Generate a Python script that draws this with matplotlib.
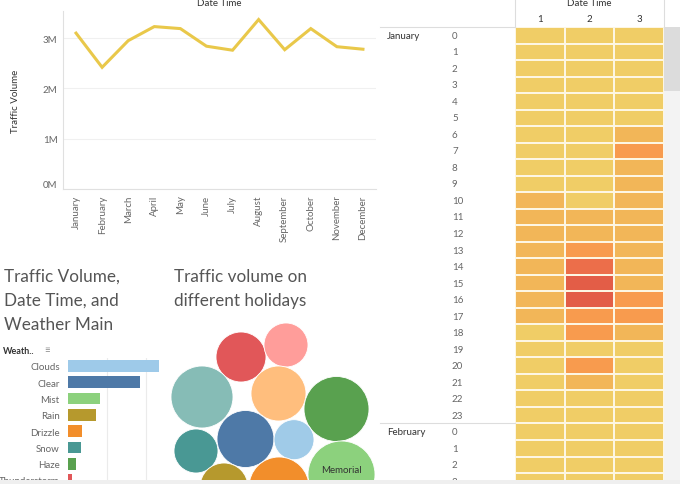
import numpy as np
import matplotlib
matplotlib.use('Agg')
import matplotlib.pyplot as plt
from matplotlib.colors import LinearSegmentedColormap
from matplotlib.patches import Circle, Rectangle

########  DATA  ########

months = ['January', 'February', 'March', 'April', 'May', 'June', 'July',
          'August', 'September', 'October', 'November', 'December']
monthly_volume = [3.10, 2.42, 2.95, 3.23, 3.19, 2.84, 2.76, 3.37, 2.77, 3.19, 2.83, 2.78]  # millions

weather = ['Clouds', 'Clear', 'Mist', 'Rain', 'Drizzle', 'Snow', 'Haze', 'Thunderstorm']
weather_volume = [11.7, 9.2, 4.1, 3.6, 1.8, 1.7, 1.0, 0.5]  # millions
weather_colors = ['#9ecae9', '#4e79a7', '#8cd17d', '#b6992d', '#f28e2b', '#499894', '#59a14f', '#e15759']

holidays = ['Washingtons Birthday', 'Columbus Day', 'Veterans Day', 'Labor Day',
            'Martin Luther King Jr Day', 'Thanksgiving Day', 'Christmas Day', 'State Fair',
            'Memorial Day', 'New Years Day', 'Independence Day']
holiday_volume = [625, 484, 961, 756, 1056, 484, 812, 400, 1122, 576, 900]  # thousands
holiday_colors = ['#e15759', '#ff9d9a', '#86bcb6', '#ffbe7d', '#59a14f', '#499894',
                  '#4e79a7', '#a0cbe8', '#8cd17d', '#b6992d', '#f28e2b']

# heatmap: hour of day (rows) x day of month (cols)
hm_days = ['1', '2', '3']
hm_months = ['January', 'February']
jan_hours = [
    [1700, 1700, 1700], [1700, 1700, 1700], [1700, 1700, 1700], [1700, 1700, 1700],
    [1700, 1700, 1700], [1700, 1700, 1700], [1700, 1700, 3000], [1700, 1700, 4000],
    [1700, 1700, 3000], [1700, 1700, 3000], [3000, 1700, 3000], [3000, 3000, 3000],
    [3000, 3000, 3000], [3000, 4000, 3000], [3000, 4700, 3000], [3000, 5200, 3000],
    [3000, 5200, 4000], [3000, 4000, 4000], [1700, 4000, 3000], [1700, 1700, 1700],
    [1700, 4000, 1700], [1700, 3000, 1700], [1700, 1700, 1700], [1700, 1700, 1700],
]
feb_hours = [[1700, 1700, 1700], [1700, 1700, 1700], [1700, 1700, 1700], [1700, 1700, 1700]]

##########################

W, H = 680, 485
BOTTOM = 481  # dashboard view is cut here
plt.rcParams['font.family'] = ['Lato', 'DejaVu Sans']
GRAY = '#666666'
DARK = '#333333'

fig = plt.figure(figsize=(W / 100, H / 100), dpi=100)


def add_ax(left, top, width, height, **kw):
    return fig.add_axes([left / W, 1 - (top + height) / H, width / W, height / H], **kw)


# ---- line chart ----
ax = add_ax(63, 12, 313, 178)
x = np.arange(len(months))
ax.plot(x, monthly_volume, color='#e9c84a', lw=2.2, solid_joinstyle='miter')
ax.set_xlim(-0.5, len(months) - 0.5)
ax.set_ylim(0, 3.54)
ax.set_yticks([0, 1, 2, 3])
ax.set_yticklabels(['0M', '1M', '2M', '3M'])
ax.set_xticks(x)
ax.set_xticklabels(months, rotation=90)
ax.tick_params(length=0, labelsize=7, colors=GRAY, pad=4)
ax.get_yticklabels()[0].set_va('bottom')
ax.grid(axis='y', color='#f0f0f0', lw=0.8)
ax.set_axisbelow(True)
for s in ['top', 'right']:
    ax.spines[s].set_visible(False)
for s in ['left', 'bottom']:
    ax.spines[s].set_color('#e0e0e0')
    ax.spines[s].set_linewidth(0.8)
ax.set_ylabel('Traffic Volume', fontsize=7, color=DARK, labelpad=16)
fig.text(219 / W, 1 - 4 / H, 'Date Time', fontsize=7, color=DARK, ha='center', va='center')

# ---- heatmap ----
hm = np.array(jan_hours + feb_hours)
row_h = 16.52
hm_h = BOTTOM - 28
hax = add_ax(515, 28, 149, hm_h)
cmap = LinearSegmentedColormap.from_list('yor', [
    (0.0, '#f0d068'), (0.395, '#f2b658'), (0.658, '#f89b4e'), (0.842, '#ec6e4a'), (1.0, '#e15a46')])
hax.pcolormesh(np.arange(4), np.arange(hm.shape[0] + 1), hm, cmap=cmap, vmin=1500, vmax=5300,
               edgecolors='#fdf6e3', linewidth=1.2)
hax.set_xlim(0, 3)
hax.set_ylim(hm_h / row_h, 0)
hax.axis('off')
for i in range(hm.shape[0]):
    hour = i % 24
    hax.text((452 - 515) / 149, i + 0.5, str(hour), transform=hax.get_yaxis_transform(),
             fontsize=7, color=GRAY, ha='left', va='center', clip_on=False)
for m, name in enumerate(hm_months):
    hax.text((387 - 515) / 149, m * 24 + 0.5, name, transform=hax.get_yaxis_transform(),
             fontsize=7, color=DARK, ha='left', va='center', clip_on=False)
for j, d in enumerate(hm_days):
    fig.text((515 + 149 / 6 + j * 149 / 3) / W, 1 - 20 / H, d, fontsize=7, color=DARK,
             ha='center', va='center')
fig.text(589 / W, 1 - 4 / H, 'Date Time', fontsize=7, color=DARK, ha='center', va='center')

# ---- weather bars ----
bar_h = BOTTOM - 358.7
bax = add_ax(68, 358.7, 110, bar_h)
yb = np.arange(len(weather))
bax.barh(yb, weather_volume, height=0.72, color=weather_colors)
bax.set_xlim(0, 110 / 39 * 5)
bax.set_ylim(bar_h / 16.6 - 0.5, -0.5)
bax.set_xticks([5, 10])
bax.grid(axis='x', color='#ebebeb', lw=0.8)
bax.set_axisbelow(True)
bax.tick_params(length=0, labelbottom=False)
bax.set_yticks(yb)
bax.set_yticklabels(weather, fontsize=7, color=GRAY)
bax.tick_params(axis='y', pad=6)
for s in bax.spines.values():
    s.set_visible(False)
fig.text(3 / W, 1 - 352 / H, 'Weath..', fontsize=6.5, color=DARK, weight='bold',
         ha='left', va='center')
fig.text(44 / W, 1 - 351 / H, '\u2261', fontsize=7, color='#888888', ha='left', va='center')

fig.text(4 / W, 1 - 269 / H, 'Traffic Volume,\nDate Time, and\nWeather Main', fontsize=12.3,
         color='#555555', ha='left', va='top', linespacing=1.62)
fig.text(174 / W, 1 - 269 / H, 'Traffic volume on\ndifferent holidays', fontsize=12.3,
         color='#555555', ha='left', va='top', linespacing=1.62)

# ---- packed bubbles (layout positions in px, radius from value) ----
bubble_xy = [(241, 358), (286, 346), (202, 398), (278.5, 394.5), (336.5, 410), (196, 452),
             (245.5, 440), (294, 440.7), (341.5, 475.5), (224, 488), (279, 488)]
cax = add_ax(163, 315, 217, BOTTOM - 315)
cax.set_xlim(163, 380)
cax.set_ylim(BOTTOM, 315)
cax.axis('off')
for (cx, cy), v, c, name in zip(bubble_xy, holiday_volume, holiday_colors, holidays):
    r = np.sqrt(v)
    cax.add_patch(Circle((cx, cy), r, facecolor=c, edgecolor='white', lw=0.6))
    if name == 'Memorial Day':
        cax.text(cx, cy + 2, 'Memorial\nDay', fontsize=7, color=DARK, ha='center', va='center',
                 linespacing=1.7, clip_on=False)

# ---- frame lines, scrollbar, bottom strip ----
ov = add_ax(0, 0, W, H, zorder=10)
ov.set_xlim(0, W)
ov.set_ylim(H, 0)
ov.axis('off')
ov.plot([380, 515], [27.5, 27.5], color='#dddddd', lw=0.8)
ov.plot([380, 515], [28 + 24 * row_h, 28 + 24 * row_h], color='#dddddd', lw=0.8)
ov.plot([515, 515], [0, 28], color='#dddddd', lw=0.8)
ov.plot([664, 664], [0, 28], color='#dddddd', lw=0.8)
ov.add_patch(Rectangle((664, 28), 16, BOTTOM - 28, color='#f3f3f3', lw=0))
ov.add_patch(Rectangle((664, 28), 16, 64, color='#dcdcdc', lw=0))
ov.add_patch(Rectangle((0, BOTTOM), W, H - BOTTOM, color='#efefef', lw=0))

fig.savefig('out.png', dpi=100)
